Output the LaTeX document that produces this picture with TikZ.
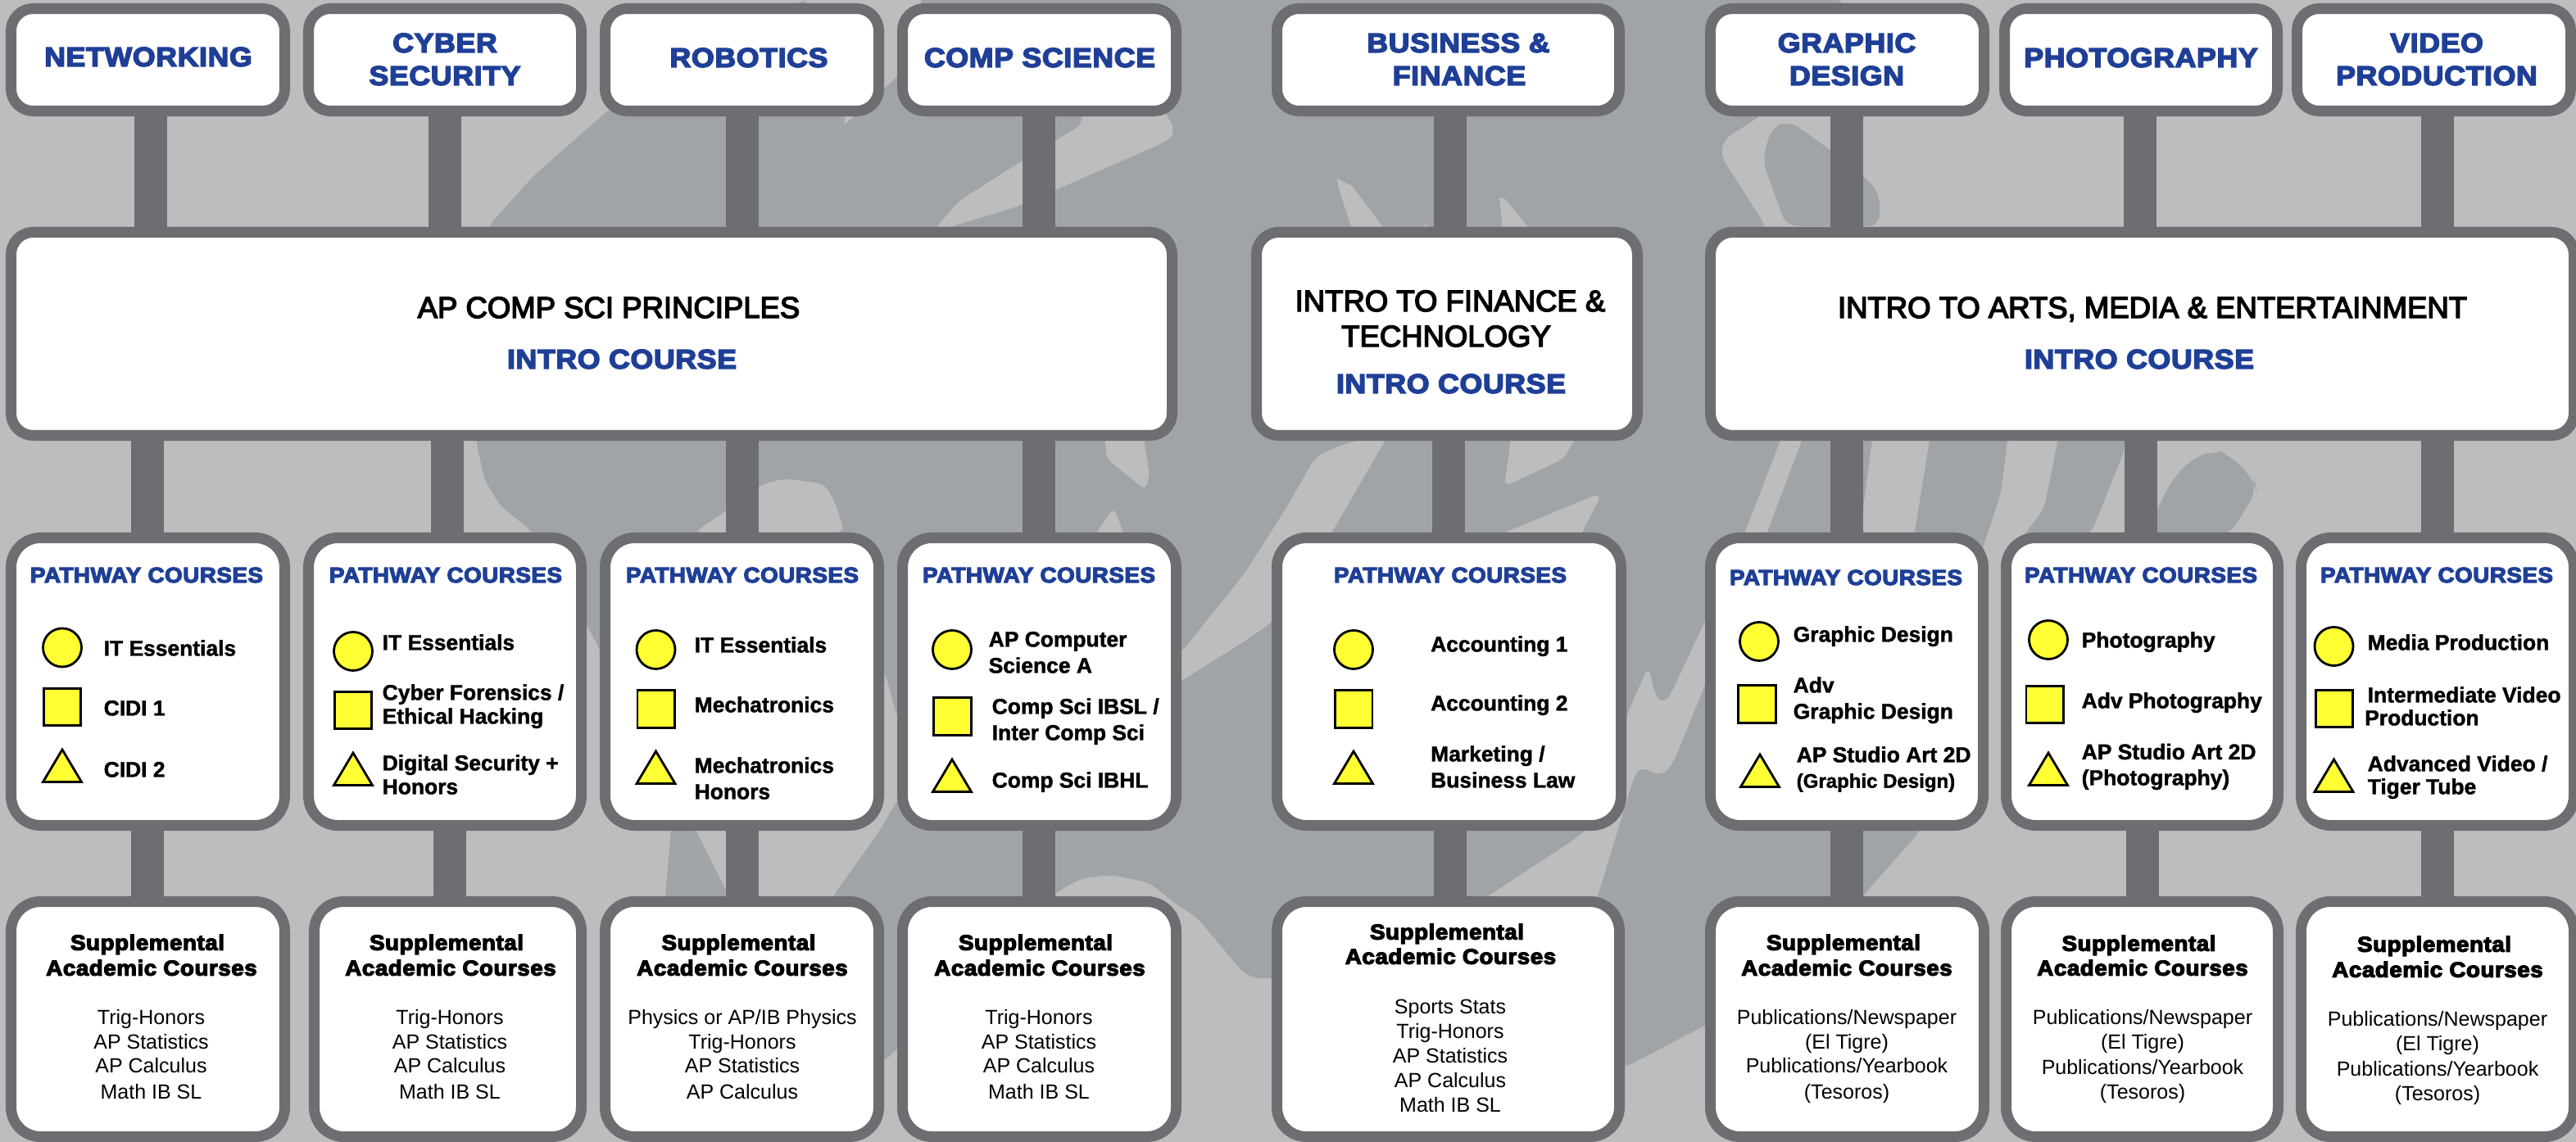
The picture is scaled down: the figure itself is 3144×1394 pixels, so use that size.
\documentclass[tikz,border=0pt]{standalone}
\usepackage{fontspec}
\setmainfont{Liberation Sans}
\newfontfamily\hv{Liberation Sans Bold}[FakeStretch=1.08,FakeBold=4.5,LetterSpace=2]
\newfontfamily\hw{Liberation Sans Bold}[FakeStretch=1.06,FakeBold=4.5,LetterSpace=2]
\newfontfamily\hb{Liberation Sans Bold}[FakeBold=1.5]
\newfontfamily\hr{Liberation Sans}
\newfontfamily\hm{Liberation Sans}[FakeBold=4]
\definecolor{bgl}{HTML}{BBBDBF}
\definecolor{bgd}{HTML}{A1A4A7}
\definecolor{frame}{HTML}{6D6E71}
\definecolor{navy}{HTML}{1F3F97}
\definecolor{mark}{HTML}{FFFF33}
\tikzset{
  boxst/.style={draw=frame,fill=white,line width=0.13cm,inner sep=0pt,outer sep=0pt,rectangle},
  stem/.style={draw=frame,line width=0.40cm},
  shp/.style={draw=black,fill=mark,line width=0.028cm,line join=miter},
  topst/.style={font=\hv\fontsize{9.39}{11}\selectfont,text=navy,inner sep=0pt,yshift=-0.118cm},
  pathst/.style={font=\hw\fontsize{7.45}{9}\selectfont,text=navy,inner sep=0pt,yshift=-0.095cm},
  headst/.style={font=\hw\fontsize{7.45}{9}\selectfont,text=black,inner sep=0pt,yshift=-0.097cm},
  introst/.style={font=\hm\fontsize{10.38}{12}\selectfont,text=black,inner sep=0pt,yshift=-0.13cm},
  itemst/.style={font=\hb\fontsize{7.51}{9}\selectfont,text=black,inner sep=0pt,yshift=-0.0945cm},
  itemsm/.style={font=\hb\fontsize{6.83}{9}\selectfont,text=black,inner sep=0pt,yshift=-0.086cm},
  coursest/.style={font=\hr\fontsize{7.11}{9}\selectfont,text=black,inner sep=0pt,yshift=-0.09cm},
}
\newcount\tcnt
% box: name, x0,y0,x1,y1 (outer), radius of the stroke centre line
\newcommand\bx[6]{\node[boxst,minimum width={(#4-#2-13)*0.01cm},minimum height={(#5-#3-13)*0.01cm},rounded corners={#6*0.01cm}] (#1) at ({(#2+#4)/2},{(#3+#5)/2}) {};}
\newcommand\stm[3]{\coordinate (sx) at (#3,0); \draw[stem] (#1.south -| sx) -- (#2.north -| sx);}
\newcommand\tc[4]{\global\advance\tcnt by 1 \node[#3,anchor=base] (txt\the\tcnt) at (#1,#2) {#4};}
\newcommand\tl[4]{\global\advance\tcnt by 1 \node[#3,anchor=base west] (txt\the\tcnt) at (#1,#2) {#4};}
\newcommand\mkC[3]{\node[shp,circle,inner sep=0pt,minimum size=0.47cm] (#1) at (#2,#3) {};}
\newcommand\mkS[5]{\node[shp,rectangle,inner sep=0pt,minimum width={(#4-#2-3)*0.01cm},minimum height={(#5-#3-3)*0.01cm}] (#1) at ({(#2+#4)/2},{(#3+#5)/2}) {};}
\newcommand\mkT[3]{\draw[shp] (#1,#2+1) -- (#1+23.5,#3-1.5) -- (#1-23.5,#3-1.5) -- cycle;}
\begin{document}
\begin{tikzpicture}[x=0.01cm,y=-0.01cm]
\useasboundingbox (0,0) rectangle (3144,1394);
\clip (0,0) rectangle (3144,1394);
\fill[bgl] (0,0) rectangle (3144,1394);
% ---------- background artwork
\fill[bgd,rounded corners=3pt] (596,276) -- (652,214) -- (743,134) -- (980,0) -- (2252,0) -- (2148,142) -- (2104,170) -- (2100,190) -- (2155,276) -- (2155,300) -- (2600,300) -- (2593,549) -- (2553,649) -- (2500,700) -- (2415,700) -- (2400,800) -- (2343,1015) -- (2275,1092) -- (2200,1200) -- (2080,1252) -- (1983,1303) -- (1700,1300) -- (1553,1192) -- (1536,1196) -- (1517,1187) -- (1460,1119) -- (1440,1107) -- (1402,1077) -- (1356,1068) -- (1320,1072) -- (1288,1090) -- (1200,1190) -- (1095,1280) -- (1078,1297) -- (1000,1200) -- (1016,1095) -- (1073,1015) -- (1095,977) -- (1120,950) -- (1120,900) -- (1095,876) -- (1079,816) -- (900,810) -- (737,803) -- (720,770) -- (680,700) -- (649,648) -- (611,618) -- (591,585) -- (581,538) -- (580,400) -- cycle;
\fill[bgd] (820,1000) -- (850,1015) -- (890,1095) -- (812,1095) -- cycle;
\fill[bgd,rounded corners=4pt] (2180,276) -- (2151,196) -- (2162,156) -- (2183,147) -- (2234,183) -- (2274,214) -- (2294,236) -- (2294,276) -- cycle;
\fill[bgd,rounded corners=5pt] (2620,655) -- (2633,620) -- (2655,580) -- (2678,558) -- (2703,550) -- (2719,553) -- (2752,587) -- (2754,597) -- (2742,620) -- (2719,655) -- cycle;
\fill[bgl,rounded corners=3pt] (847,650) -- (886,624) -- (926,593) -- (957,584) -- (1007,591) -- (1019,613) -- (1031,650) -- cycle;
\fill[bgl,rounded corners=3pt] (1321,130) -- (1321,152) -- (1248,196) -- (1171,245) -- (1140,280) -- (1150,280) -- (1248,250) -- (1288,232) -- (1425,172) -- (1435,160) -- (1418,130) -- cycle;
\fill[bgl] (982,0) -- (1124,0) -- (1130,60) -- (1100,89) -- (1031,152) -- (1031,100) -- cycle;
\fill[bgl,rounded corners=2pt] (1348,530) -- (1351,560) -- (1398,598) -- (1403,580) -- (1395,530) -- cycle;
\fill[bgl,rounded corners=2pt] (1336,655) -- (1358,620) -- (1365,633) -- (1372,655) -- cycle;
\fill[bgl,rounded corners=3pt] (1690,530) -- (1640,542) -- (1606,557) -- (1570,620) -- (1519,700) -- (1442,796) -- (1425,806) -- (1425,838) -- (1442,831) -- (1520,782) -- (1552,760) -- (1626,649) -- (1695,530) -- cycle;
\fill[bgl] (1632,218) -- (1650,227) -- (1690,280) -- (1650,280) -- (1633,227) -- cycle;
\fill[bgl] (1830,241) -- (1837,243) -- (1867,280) -- (1834,280) -- cycle;
\fill[bgl] (1737,280) -- (1741,270) -- (1741,280) -- cycle;
\fill[bgl,rounded corners=2pt] (1845,530) -- (1836,593) -- (1847,589) -- (1908,560) -- (1926,530) -- cycle;
\fill[bgl,rounded corners=1pt] (1825,655) -- (1948,604) -- (1953,607) -- (1928,655) -- cycle;
\fill[bgl,rounded corners=3pt] (1807,1100) -- (1921,1025) -- (1981,977) -- (1985,874) -- (2012,813) -- (2020,849) -- (2030,860) -- (2040,846) -- (2080,760) -- (2130,649) -- (2176,530) -- (2202,530) -- (2157,649) -- (2080,838) -- (2042,932) -- (2027,948) -- (2003,935) -- (1995,946) -- (1948,1100) -- cycle;
\fill[bgl] (2286,530) -- (2274,620) -- (2274,655) -- (2336,655) -- (2356,530) -- cycle;
\fill[bgl,rounded corners=3pt] (2451,530) -- (2442,603) -- (2420,669) -- (2415,705) -- (2440,705) -- (2469,655) -- (2495,620) -- (2513,530) -- cycle;
% ---------- boxes
\bx{t1}{7}{4}{354}{142}{27}
\bx{t2}{370}{4}{716}{142}{27}
\bx{t3}{732}{4}{1079}{142}{27}
\bx{t4}{1095}{4}{1442}{142}{27}
\bx{t5}{1552}{4}{1983}{142}{27}
\bx{t6}{2081}{4}{2428}{142}{27}
\bx{t7}{2440}{4}{2786}{142}{27}
\bx{t8}{2797}{4}{3144}{142}{27}
\bx{ia}{7}{277}{1437}{538}{27}
\bx{ib}{1527}{277}{2005}{538}{27}
\bx{ic}{2081}{277}{3148}{538}{27}
\bx{p1}{7}{650}{354}{1014}{36}
\bx{p2}{370}{650}{716}{1014}{36}
\bx{p3}{732}{650}{1079}{1014}{36}
\bx{p4}{1095}{650}{1442}{1014}{36}
\bx{p5}{1552}{650}{1985}{1014}{36}
\bx{p6}{2081}{650}{2427}{1014}{36}
\bx{p7}{2442}{650}{2787}{1014}{36}
\bx{p8}{2802}{650}{3148}{1014}{36}
\bx{s1}{7}{1094}{354}{1394}{36}
\bx{s2}{377}{1094}{716}{1394}{36}
\bx{s3}{732}{1094}{1079}{1394}{36}
\bx{s4}{1095}{1094}{1442}{1394}{36}
\bx{s5}{1552}{1094}{1983}{1394}{36}
\bx{s6}{2081}{1094}{2428}{1394}{36}
\bx{s7}{2442}{1094}{2787}{1394}{36}
\bx{s8}{2802}{1094}{3148}{1394}{36}
% ---------- connectors
\stm{t1}{ia}{184}\stm{t2}{ia}{543}\stm{t3}{ia}{906}\stm{t4}{ia}{1268}
\stm{t5}{ib}{1770}
\stm{t6}{ic}{2254}\stm{t7}{ic}{2612}\stm{t8}{ic}{2974.5}
\stm{ia}{p1}{180}\stm{ia}{p2}{546}\stm{ia}{p3}{906}\stm{ia}{p4}{1268}
\stm{ib}{p5}{1768}
\stm{ic}{p6}{2254}\stm{ic}{p7}{2612.5}\stm{ic}{p8}{2974.5}
\stm{p1}{s1}{180}\stm{p2}{s2}{549}\stm{p3}{s3}{906}\stm{p4}{s4}{1268}
\stm{p5}{s5}{1770}
\stm{p6}{s6}{2254}\stm{p7}{s7}{2615}\stm{p8}{s8}{2974.5}
% ---------- top labels
\tc{181}{69}{topst}{NETWORKING}
\tc{543}{52}{topst}{CYBER}\tc{543}{92}{topst}{SECURITY}
\tc{914}{70}{topst}{ROBOTICS}
\tc{1269}{70}{topst}{COMP SCIENCE}
\tc{1780}{52}{topst}{BUSINESS \&}\tc{1781}{92}{topst}{FINANCE}
\tc{2254}{52}{topst}{GRAPHIC}\tc{2254}{92}{topst}{DESIGN}
\tc{2613}{70}{topst}{PHOTOGRAPHY}
\tc{2974}{52}{topst}{VIDEO}\tc{2974}{92}{topst}{PRODUCTION}
% ---------- intro boxes
\tc{743}{375}{introst}{AP COMP SCI PRINCIPLES}
\tc{759}{438}{topst}{INTRO COURSE}
\tc{1770}{367}{introst}{INTRO TO FINANCE \&}
\tc{1765}{410}{introst}{TECHNOLOGY}
\tc{1771}{468}{topst}{INTRO COURSE}
\tc{2627}{375}{introst}{INTRO TO ARTS, MEDIA \& ENTERTAINMENT}
\tc{2611}{438}{topst}{INTRO COURSE}
% ---------- pathway headers
\tc{179}{701.5}{pathst}{PATHWAY COURSES}
\tc{544}{701.5}{pathst}{PATHWAY COURSES}
\tc{906}{701.5}{pathst}{PATHWAY COURSES}
\tc{1268}{701.5}{pathst}{PATHWAY COURSES}
\tc{1770}{701.5}{pathst}{PATHWAY COURSES}
\tc{2253}{704.5}{pathst}{PATHWAY COURSES}
\tc{2613}{701.5}{pathst}{PATHWAY COURSES}
\tc{2974}{701.5}{pathst}{PATHWAY COURSES}
% ---------- pathway 1
\mkC{c1}{76}{790.5}\mkS{q1}{52}{839}{100}{887}\mkT{76}{914}{956}
\tl{126}{791}{itemst}{IT Essentials}
\tl{126}{864}{itemst}{CIDI 1}
\tl{126}{939}{itemst}{CIDI 2}
% ---------- pathway 2
\mkC{c2}{431}{795}\mkS{q2}{407}{843}{455}{891}\mkT{431}{918}{960}
\tl{466}{784}{itemst}{IT Essentials}
\tl{466}{845}{itemst}{Cyber Forensics /}
\tl{466}{874}{itemst}{Ethical Hacking}
\tl{466}{931}{itemst}{Digital Security +}
\tl{466}{960}{itemst}{Honors}
% ---------- pathway 3
\mkC{c3}{800.5}{793}\mkS{q3}{776.5}{841}{825}{890}\mkT{800.5}{916}{958}
\tl{847}{787}{itemst}{IT Essentials}
\tl{847}{860}{itemst}{Mechatronics}
\tl{847}{934}{itemst}{Mechatronics}
\tl{847}{966}{itemst}{Honors}
% ---------- pathway 4
\mkC{c4}{1162}{793}\mkS{q4}{1138}{850}{1187}{899}\mkT{1162}{926}{968}
\tl{1206}{780}{itemst}{AP Computer}
\tl{1206}{812}{itemst}{Science A}
\tl{1210}{862}{itemst}{Comp Sci IBSL /}
\tl{1210}{894}{itemst}{Inter Comp Sci}
\tl{1210}{952}{itemst}{Comp Sci IBHL}
% ---------- pathway 5
\mkC{c5}{1652}{793}\mkS{q5}{1628}{841}{1676.5}{890}\mkT{1652}{916}{958}
\tl{1745.5}{786}{itemst}{Accounting 1}
\tl{1745.5}{858}{itemst}{Accounting 2}
\tl{1745.5}{920}{itemst}{Marketing /}
\tl{1745.5}{952}{itemst}{Business Law}
% ---------- pathway 6
\mkC{c6}{2147}{783}\mkS{q6}{2120}{835}{2169}{884}\mkT{2148}{920}{962}
\tl{2188}{774}{itemst}{Graphic Design}
\tl{2188}{836}{itemst}{Adv}
\tl{2188}{868}{itemst}{Graphic Design}
\tl{2192}{921}{itemst}{AP Studio Art 2D}
\tl{2192}{953}{itemsm}{(Graphic Design)}
% ---------- pathway 7
\mkC{c7}{2500}{781}\mkS{q7}{2471.5}{836}{2520}{884}\mkT{2500}{918}{960}
\tl{2540}{781}{itemst}{Photography}
\tl{2540}{855}{itemst}{Adv Photography}
\tl{2540}{917.5}{itemst}{AP Studio Art 2D}
\tl{2540}{949}{itemst}{(Photography)}
% ---------- pathway 8
\mkC{c8}{2848.5}{789}\mkS{q8}{2825}{841}{2873}{889}\mkT{2848.5}{926}{968}
\tl{2889}{784}{itemst}{Media Production}
\tl{2889}{848}{itemst}{Intermediate Video}
\tl{2885.5}{876}{itemst}{Production}
\tl{2889}{932}{itemst}{Advanced Video /}
\tl{2889}{960}{itemst}{Tiger Tube}
% ---------- supplemental 1
\tc{180}{1150}{headst}{Supplemental}\tc{185}{1181}{headst}{Academic Courses}
\tc{184.5}{1241}{coursest}{Trig-Honors}\tc{184.5}{1271}{coursest}{AP Statistics}
\tc{184.5}{1300.5}{coursest}{AP Calculus}\tc{184.5}{1332}{coursest}{Math IB SL}
% ---------- supplemental 2
\tc{545}{1150}{headst}{Supplemental}\tc{550}{1181}{headst}{Academic Courses}
\tc{549}{1241}{coursest}{Trig-Honors}\tc{549}{1271}{coursest}{AP Statistics}
\tc{549}{1300.5}{coursest}{AP Calculus}\tc{549}{1332}{coursest}{Math IB SL}
% ---------- supplemental 3
\tc{901.5}{1150}{headst}{Supplemental}\tc{906}{1181}{headst}{Academic Courses}
\tc{906}{1241}{coursest}{Physics or AP/IB Physics}\tc{906}{1271}{coursest}{Trig-Honors}
\tc{906}{1300.5}{coursest}{AP Statistics}\tc{906}{1332}{coursest}{AP Calculus}
% ---------- supplemental 4
\tc{1264}{1150}{headst}{Supplemental}\tc{1269}{1181}{headst}{Academic Courses}
\tc{1268}{1241}{coursest}{Trig-Honors}\tc{1268}{1271}{coursest}{AP Statistics}
\tc{1268}{1300.5}{coursest}{AP Calculus}\tc{1268}{1332}{coursest}{Math IB SL}
% ---------- supplemental 5
\tc{1766}{1137}{headst}{Supplemental}\tc{1770.5}{1167}{headst}{Academic Courses}
\tc{1770}{1228}{coursest}{Sports Stats}\tc{1770}{1258}{coursest}{Trig-Honors}
\tc{1770}{1288}{coursest}{AP Statistics}\tc{1770}{1318}{coursest}{AP Calculus}
\tc{1770}{1348.5}{coursest}{Math IB SL}
% ---------- supplemental 6
\tc{2250}{1150}{headst}{Supplemental}\tc{2254}{1181}{headst}{Academic Courses}
\tc{2254}{1241}{coursest}{Publications/Newspaper}\tc{2254}{1271}{coursest}{(El Tigre)}
\tc{2254}{1300.5}{coursest}{Publications/Yearbook}\tc{2254}{1332}{coursest}{(Tesoros)}
% ---------- supplemental 7
\tc{2610.5}{1151}{headst}{Supplemental}\tc{2615}{1181}{headst}{Academic Courses}
\tc{2615}{1241}{coursest}{Publications/Newspaper}\tc{2615}{1271}{coursest}{(El Tigre)}
\tc{2615}{1302}{coursest}{Publications/Yearbook}\tc{2615}{1332}{coursest}{(Tesoros)}
% ---------- supplemental 8
\tc{2971}{1152}{headst}{Supplemental}\tc{2975}{1183}{headst}{Academic Courses}
\tc{2975}{1243}{coursest}{Publications/Newspaper}\tc{2975}{1273}{coursest}{(El Tigre)}
\tc{2975}{1304}{coursest}{Publications/Yearbook}\tc{2975}{1334}{coursest}{(Tesoros)}
\end{tikzpicture}
\end{document}
